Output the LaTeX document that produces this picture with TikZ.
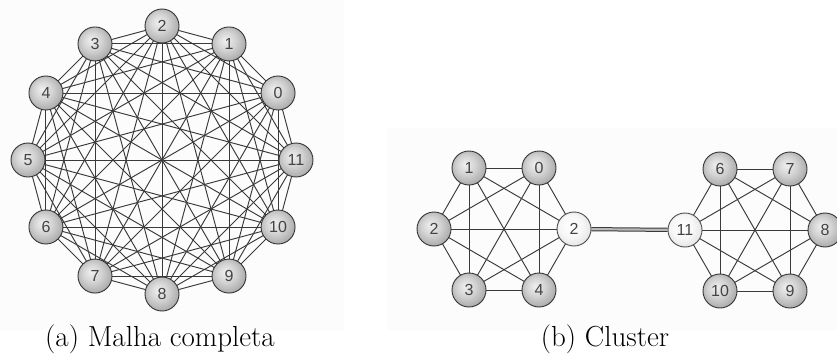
\documentclass[tikz,border=0pt]{standalone}
\usepackage{fontspec}
\newfontfamily\numfont{Liberation Sans}
\pgfdeclarelayer{background}
\pgfdeclarelayer{edges}
\pgfsetlayers{background,edges,main}
\pgfdeclareradialshading{darkball}{\pgfpoint{-6bp}{6bp}}{color(0bp)=(gray!12); color(14bp)=(gray!35); color(26bp)=(gray!62); color(34bp)=(gray!75); color(50bp)=(gray!75)}
\pgfdeclareradialshading{lightball}{\pgfpoint{-6bp}{6bp}}{color(0bp)=(white); color(16bp)=(gray!6); color(26bp)=(gray!18); color(34bp)=(gray!25); color(50bp)=(gray!25)}
\definecolor{edgecol}{HTML}{3A3A3A}
\definecolor{numcol}{HTML}{444444}
\definecolor{bgbox}{HTML}{FCFCFC}
\tikzset{
  vtx/.style={circle, minimum size=34pt, inner sep=0pt, draw=gray!40!black, line width=0.9pt,
    shading=darkball, font=\numfont\fontsize{16}{16}\selectfont, text=numcol},
  lvtx/.style={vtx, shading=lightball, draw=gray!60!black},
  edgeline/.style={draw=edgecol, line width=0.95pt},
  linkline/.style={draw=edgecol, line width=1pt, double=gray!55, double distance=2.2pt},
  captext/.style={font=\fontsize{29}{34}\selectfont, anchor=base}
}
\begin{document}
\begin{tikzpicture}[x=1pt,y=-1pt]
\useasboundingbox (0,0) rectangle (837,356);
\begin{pgfonlayer}{background}
\fill[bgbox] (0,0) rectangle (344,330);
\fill[bgbox] (387,128) rectangle (837,330);
\end{pgfonlayer}
% (a) complete mesh
\foreach \k in {0,...,11}{
  \node[vtx] (a\k) at ({162+134*cos(30*(\k+1))},{160-134*sin(30*(\k+1))}) {\k};
}
\begin{pgfonlayer}{edges}
\foreach \i in {0,...,10}{
  \pgfmathtruncatemacro{\s}{\i+1}
  \foreach \j in {\s,...,11}{
    \draw[edgeline] (a\i.center) -- (a\j.center);
  }
}
\end{pgfonlayer}
% (b) cluster
\node[vtx]  (b1) at (469,168) {1};
\node[vtx]  (b0) at (539,168) {0};
\node[vtx]  (b2) at (434,229) {2};
\node[lvtx] (bg) at (574,229) {2};
\node[vtx]  (b3) at (469,290) {3};
\node[vtx]  (b4) at (539,290) {4};
\node[vtx]  (c6) at (720,169) {6};
\node[vtx]  (c7) at (790,169) {7};
\node[lvtx] (cg) at (685,230) {11};
\node[vtx]  (c8) at (825,230) {8};
\node[vtx]  (c10) at (720,291) {10};
\node[vtx]  (c9) at (790,291) {9};
\begin{pgfonlayer}{edges}
\foreach \u/\v in {b1/b0,b1/b2,b1/bg,b1/b3,b1/b4,b0/b2,b0/bg,b0/b3,b0/b4,b2/bg,b2/b3,b2/b4,bg/b3,bg/b4,b3/b4,
  c6/c7,c6/cg,c6/c8,c6/c10,c6/c9,c7/cg,c7/c8,c7/c10,c7/c9,cg/c8,cg/c10,cg/c9,c8/c10,c8/c9,c10/c9}{
  \draw[edgeline] (\u.center) -- (\v.center);
}
\end{pgfonlayer}
\draw[linkline] (bg) -- (cg);
% captions
\node[captext] (capa) at (160,346) {(a) Malha completa};
\node[captext] (capb) at (605,346) {(b) Cluster};
\end{tikzpicture}
\end{document}
